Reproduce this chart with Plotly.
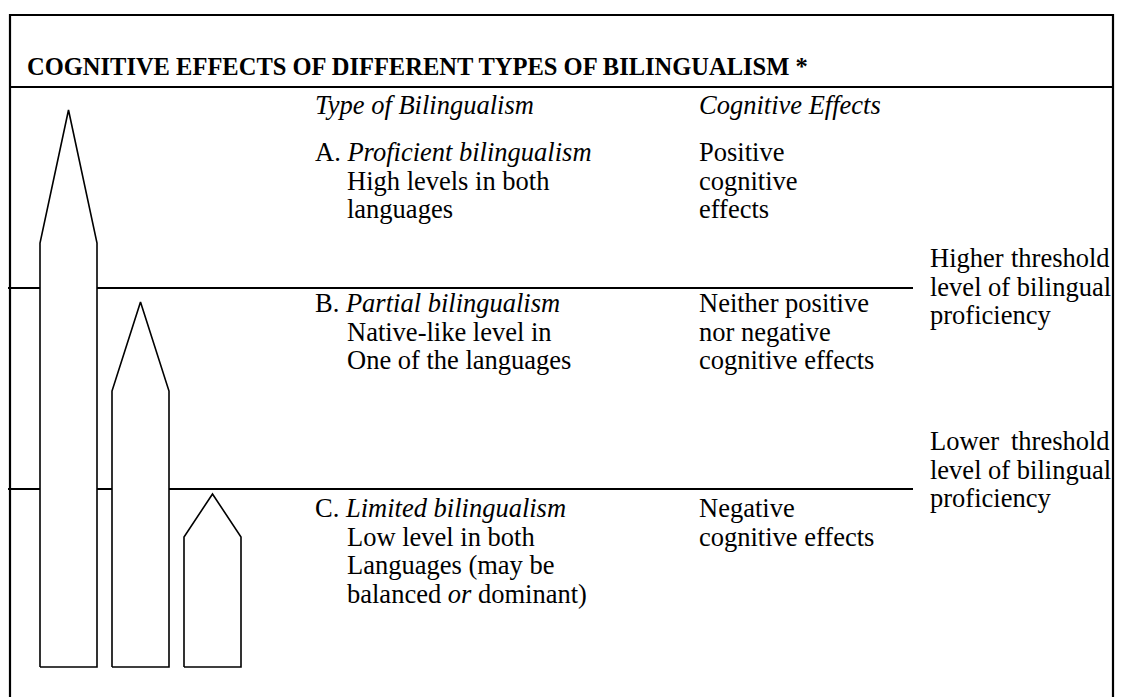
import plotly.graph_objects as go

# ---- diagram data (vertical unit = proficiency level above the base line) ----
bar_names = ["Proficient", "Partial", "Limited"]
bar_left = [40, 112, 184]
bar_right = [97, 169, 241]
bar_shoulder = [424, 276, 130]
bar_apex = [557, 365, 173]
bar_base = [0, 0, 0]

threshold_names = ["Higher threshold", "Lower threshold"]
threshold_levels = [379, 178]
threshold_x = [8, 913]

title_text = "COGNITIVE EFFECTS OF DIFFERENT TYPES OF BILINGUALISM *"
col_headers = ["<i>Type of Bilingualism</i>", "<i>Cognitive Effects</i>"]

type_lines = [
    ["A. <i>Proficient bilingualism</i>", "High levels in both", "languages"],
    ["B. <i>Partial bilingualism</i>", "Native-like level in", "One of the languages"],
    ["C. <i>Limited bilingualism</i>", "Low level in both", "Languages (may be",
     "balanced <i>or</i> dominant)"],
]
effect_lines = [
    ["Positive", "cognitive", "effects"],
    ["Neither positive", "nor negative", "cognitive effects"],
    ["Negative", "cognitive effects"],
]
threshold_text = [
    [("Higher", "threshold"), "level of bilingual", "proficiency"],
    [("Lower", "threshold"), "level of bilingual", "proficiency"],
]

W, H = 1121, 697
BASE_PX = 667  # pixel row of level 0


def lv(px):
    return BASE_PX - px


FONT = "Liberation Serif"
BODY = 26.5
LINE = 28.7

fig = go.Figure()

# outer frame
fig.add_trace(go.Scatter(x=[10, 10, 1113, 1113], y=[lv(700), lv(15), lv(15), lv(700)],
                         mode="lines", line=dict(color="black", width=2.2),
                         hoverinfo="skip", showlegend=False))
# title divider
fig.add_trace(go.Scatter(x=[10, 1113], y=[lv(87), lv(87)], mode="lines",
                         line=dict(color="black", width=2.2), hoverinfo="skip", showlegend=False))

# threshold lines
for name, lev in zip(threshold_names, threshold_levels):
    fig.add_trace(go.Scatter(x=threshold_x, y=[lev, lev], mode="lines", name=name,
                             line=dict(color="black", width=1.8), hoverinfo="skip",
                             showlegend=False))

# bars (white-filled pointed columns drawn over the lines)
for n, l, r, s, a, b in zip(bar_names, bar_left, bar_right, bar_shoulder, bar_apex, bar_base):
    xs = [l, l, (l + r) / 2, r, r, l]
    ys = [b, s, a, s, b, b]
    fig.add_trace(go.Scatter(x=xs, y=ys, mode="lines", fill="toself", fillcolor="white",
                             line=dict(color="black", width=1.6), name=n,
                             hoverinfo="skip", showlegend=False))

ann = []


def add(text, x, ypx, xanchor="left", size=BODY):
    ann.append(dict(text=text, x=x, y=lv(ypx), xref="x", yref="y", xanchor=xanchor,
                    yanchor="middle", showarrow=False,
                    font=dict(family=FONT, size=size, color="black")))


add("<b>" + title_text + "</b>", 25, 66, size=24.5)
add(col_headers[0], 313, 105)
add(col_headers[1], 697, 105)

type_start = [152, 303, 508]
for lines, y0 in zip(type_lines, type_start):
    for i, t in enumerate(lines):
        add(t, 313 if i == 0 else 345, y0 + i * LINE)

for lines, y0 in zip(effect_lines, type_start):
    for i, t in enumerate(lines):
        add(t, 697, y0 + i * LINE)

thr_start = [258, 441]
for lines, y0 in zip(threshold_text, thr_start):
    for i, t in enumerate(lines):
        yy = y0 + i * LINE
        if isinstance(t, tuple):
            add(t[0], 928, yy)
            add(t[1], 1112, yy, xanchor="right")
        else:
            add(t, 928, yy)

fig.update_layout(
    width=W, height=H, margin=dict(l=0, r=0, t=0, b=0),
    paper_bgcolor="white", plot_bgcolor="white",
    xaxis=dict(range=[0, W], visible=False, fixedrange=True),
    yaxis=dict(range=[lv(H), lv(0)], visible=False, fixedrange=True),
    annotations=ann, showlegend=False,
)

fig.write_html("out.html", config={"displayModeBar": False},
               post_script="document.body.style.margin='0px';document.body.style.overflow='hidden';")
